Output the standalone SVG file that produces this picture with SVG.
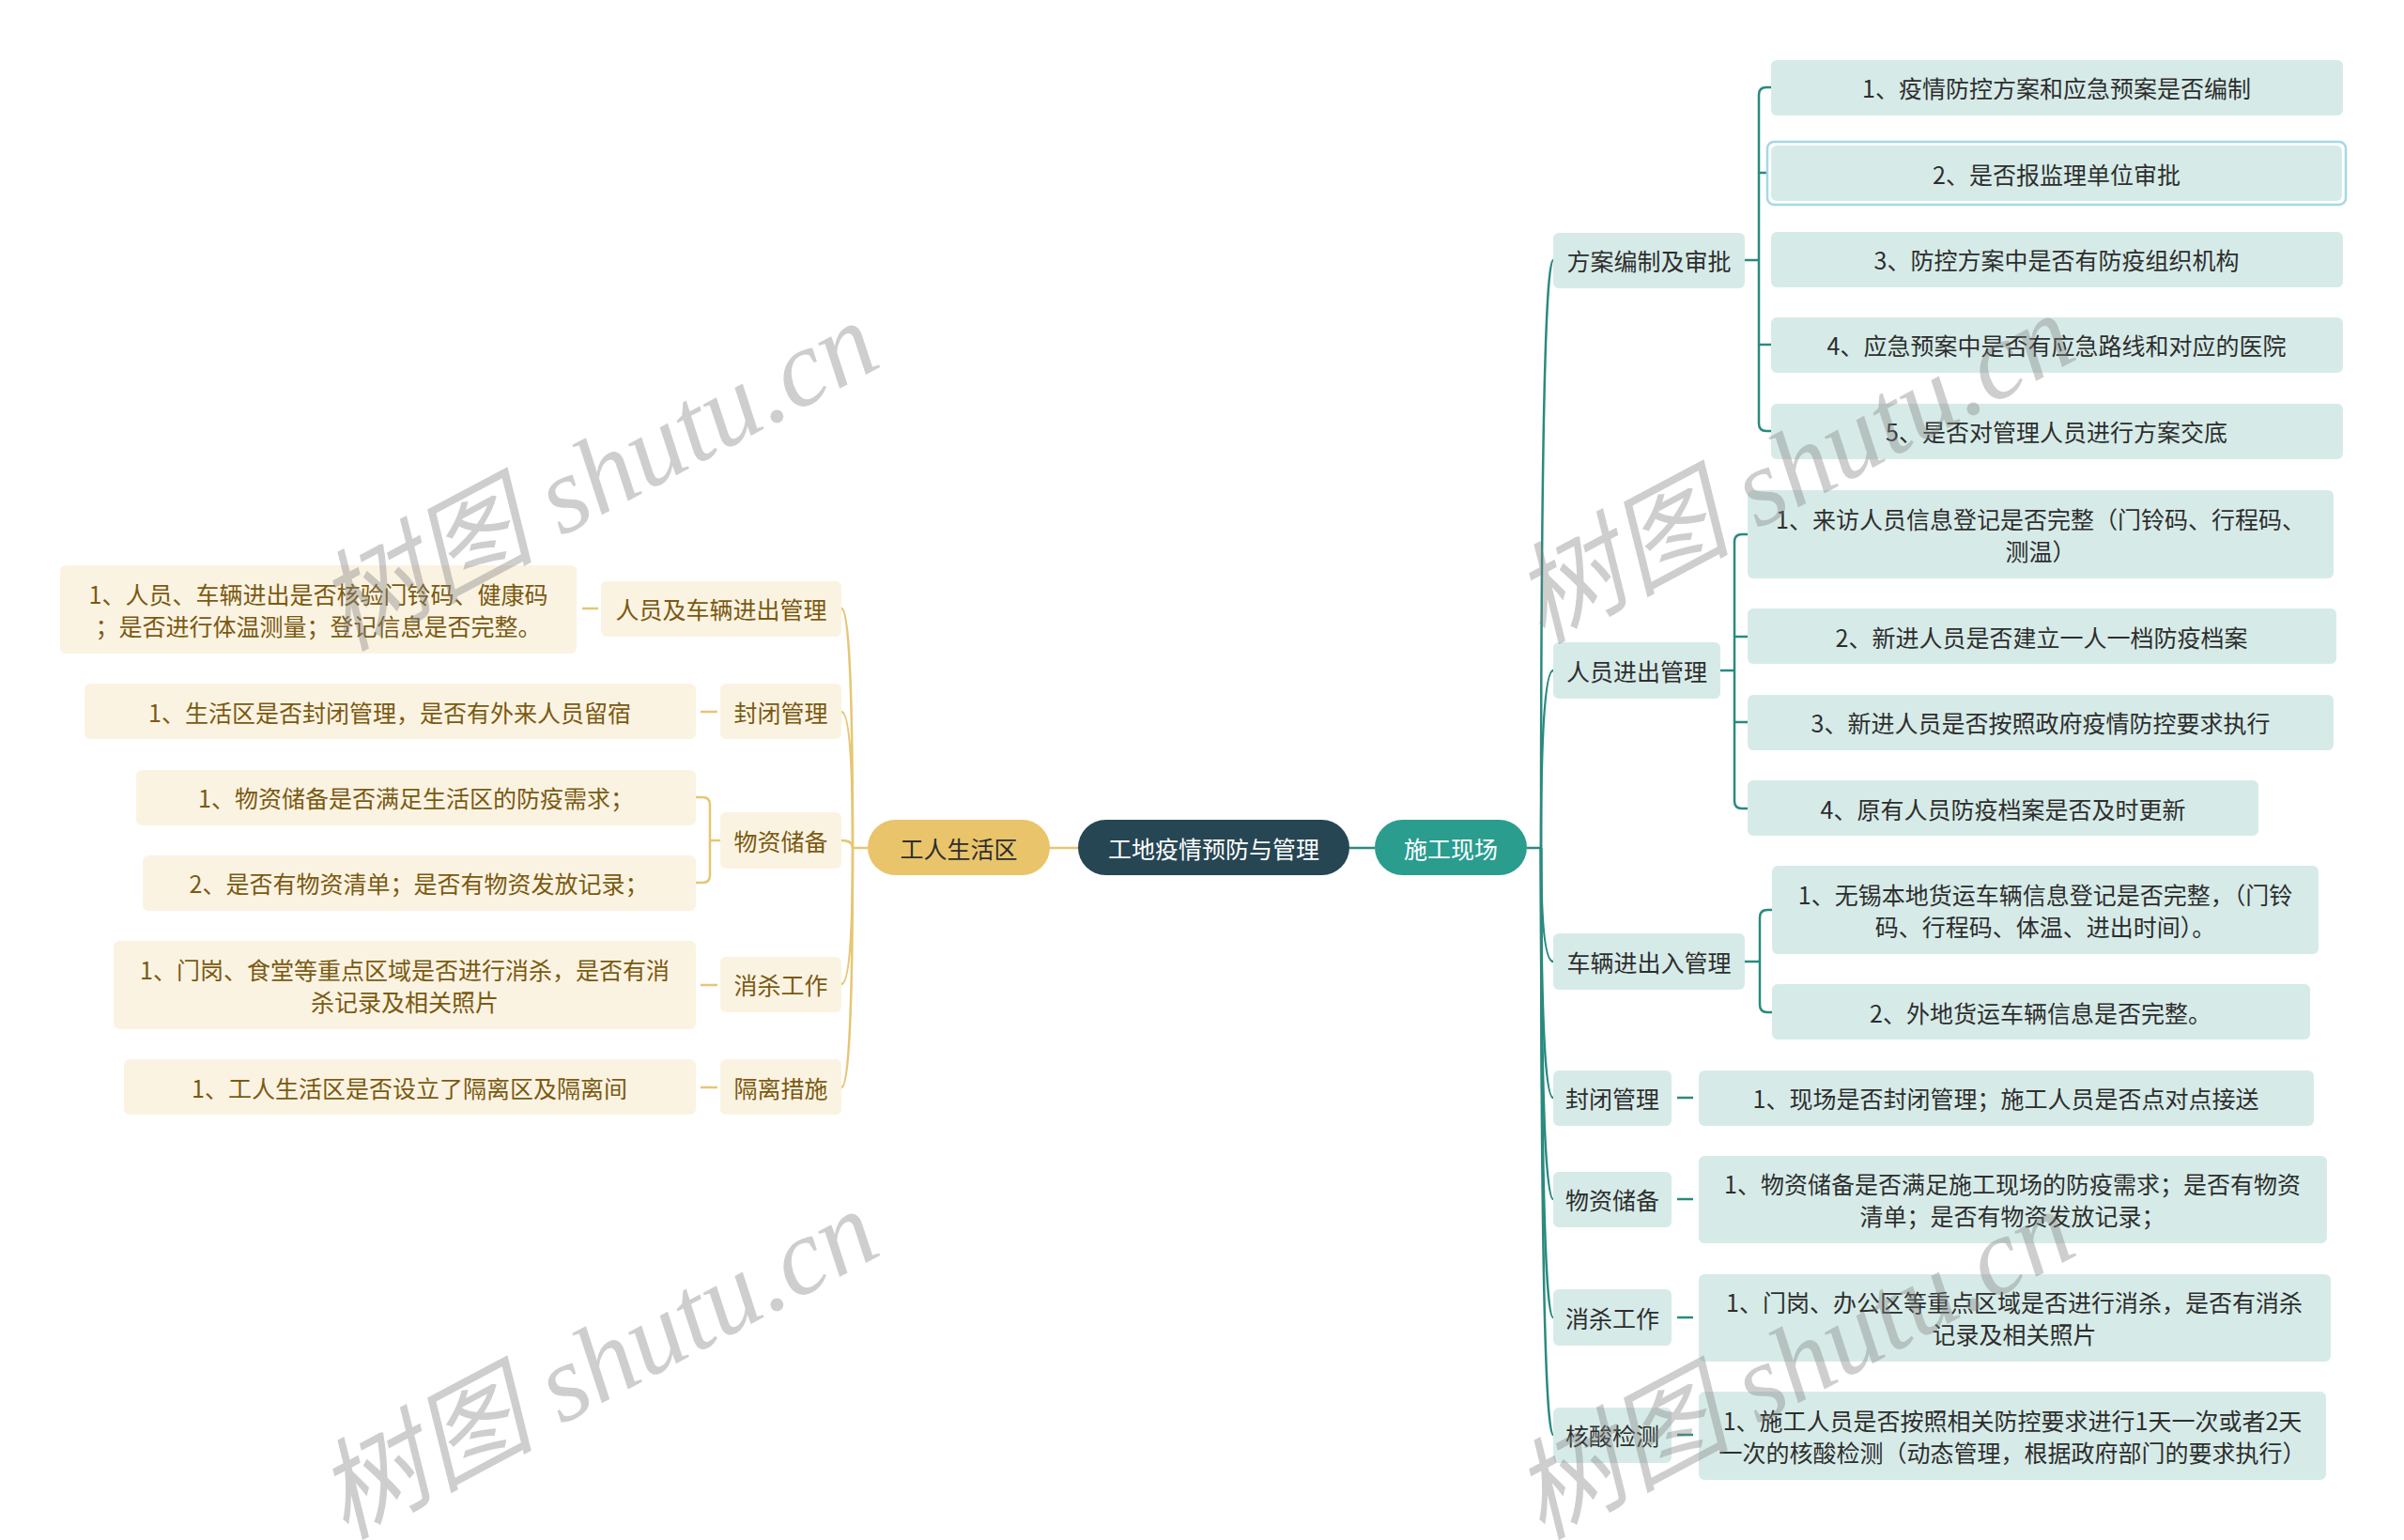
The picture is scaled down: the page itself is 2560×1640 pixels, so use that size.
<svg xmlns="http://www.w3.org/2000/svg" width="2560" height="1640" viewBox="0 0 2560 1640">
<style>
text{font-family:"Noto Sans CJK SC","Noto Sans",sans-serif;font-size:25px;dominant-baseline:central;text-anchor:middle}
.rb{fill:#d6ebe8}
.rt{fill:#2e2e2e}
.lb{fill:#fbf3e2}
.lt{fill:#7a5a12}
.rc{fill:none;stroke:#2a8a7e;stroke-width:2.5}
.lc{fill:none;stroke:#e5c674;stroke-width:2.5}
.wm{font-family:"Liberation Serif","Noto Sans CJK SC",serif;font-style:italic;font-size:116px;fill:#808080;opacity:0.38;text-anchor:start;dominant-baseline:auto}
</style>
<rect width="2560" height="1640" fill="#ffffff"/>

<g id="connectors">
  <path class="lc" d="M1118,903 H1148"/>
  <path class="rc" d="M1437,903 H1464"/>
  <!-- right trunk -->
  <path class="rc" d="M1626,903 H1641"/>
  <path class="rc" d="M1641,903 Q1641,277 1654,277"/>
  <path class="rc" d="M1641,903 Q1641,714 1654,714"/>
  <path class="rc" d="M1641,903 Q1641,1024 1654,1024"/>
  <path class="rc" d="M1641,903 Q1641,1169 1654,1169"/>
  <path class="rc" d="M1641,903 Q1641,1277 1654,1277"/>
  <path class="rc" d="M1641,903 Q1641,1403 1654,1403"/>
  <path class="rc" d="M1641,903 Q1641,1528 1654,1528"/>
  <!-- 方案 bracket -->
  <path class="rc" d="M1858,277 H1873"/>
  <path class="rc" d="M1886,93 H1881 Q1873,93 1873,101 V451 Q1873,459 1881,459 H1886"/>
  <path class="rc" d="M1873,184 H1883"/>
  <path class="rc" d="M1873,367 H1886"/>
  <!-- 人员进出 bracket -->
  <path class="rc" d="M1832,714 H1847"/>
  <path class="rc" d="M1861,569 H1855 Q1847,569 1847,577 V853 Q1847,861 1855,861 H1861"/>
  <path class="rc" d="M1847,678 H1861"/>
  <path class="rc" d="M1847,769 H1861"/>
  <!-- 车辆 bracket -->
  <path class="rc" d="M1858,1024 H1874"/>
  <path class="rc" d="M1887,969 H1882 Q1874,969 1874,977 V1070 Q1874,1078 1882,1078 H1887"/>
  <!-- single right -->
  <path class="rc" d="M1786,1169 H1803"/>
  <path class="rc" d="M1786,1277 H1803"/>
  <path class="rc" d="M1786,1403 H1803"/>
  <path class="rc" d="M1786,1528 H1803"/>
  <!-- left trunk -->
  <path class="lc" d="M924,903 H908"/>
  <path class="lc" d="M908,903 Q908,648 896,648"/>
  <path class="lc" d="M908,903 Q908,758 896,758"/>
  <path class="lc" d="M908,903 Q908,895 896,895"/>
  <path class="lc" d="M908,903 Q908,1048 896,1048"/>
  <path class="lc" d="M908,903 Q908,1158 896,1158"/>
  <!-- left children -->
  <path class="lc" d="M620,648 H637"/>
  <path class="lc" d="M746,758 H764"/>
  <path class="lc" d="M767,895 H756"/>
  <path class="lc" d="M741,849 H748 Q756,849 756,857 V932 Q756,940 748,940 H741"/>
  <path class="lc" d="M746,1049 H764"/>
  <path class="lc" d="M746,1158 H764"/>
</g>

<g id="root">
  <rect x="1148" y="873" width="289" height="59" rx="29.5" fill="#264653"/>
  <text x="1292.5" y="903" fill="#ffffff">工地疫情预防与管理</text>
</g>
<g id="site">
  <rect x="1464" y="873" width="162" height="59" rx="29.5" fill="#2a9d8f"/>
  <text x="1545" y="903" fill="#ffffff">施工现场</text>
</g>
<g id="living">
  <rect x="924" y="873" width="194" height="59" rx="29.5" fill="#e9c46a"/>
  <text x="1021" y="903" fill="#2e2e2e">工人生活区</text>
</g>

<!-- right level 2 -->
<g id="r-plan"><rect class="rb" x="1654" y="248" width="204" height="59" rx="6"/><text class="rt" x="1756" y="277">方案编制及审批</text></g>
<g id="r-people"><rect class="rb" x="1654" y="684" width="178" height="60" rx="6"/><text class="rt" x="1743" y="714">人员进出管理</text></g>
<g id="r-vehicle"><rect class="rb" x="1654" y="994" width="204" height="60" rx="6"/><text class="rt" x="1756" y="1024">车辆进出入管理</text></g>
<g id="r-closed"><rect class="rb" x="1654" y="1140" width="126" height="59" rx="6"/><text class="rt" x="1717" y="1169">封闭管理</text></g>
<g id="r-supply"><rect class="rb" x="1654" y="1248" width="126" height="59" rx="6"/><text class="rt" x="1717" y="1277">物资储备</text></g>
<g id="r-disinfect"><rect class="rb" x="1654" y="1373" width="126" height="60" rx="6"/><text class="rt" x="1717" y="1403">消杀工作</text></g>
<g id="r-test"><rect class="rb" x="1654" y="1499" width="126" height="59" rx="6"/><text class="rt" x="1717" y="1528">核酸检测</text></g>

<!-- right level 3 -->
<g id="r-plan-1"><rect class="rb" x="1886" y="64" width="609" height="59" rx="6"/><text class="rt" x="2190" y="93">1、疫情防控方案和应急预案是否编制</text></g>
<g id="r-plan-2"><rect x="1882" y="151" width="616" height="67" rx="7" fill="none" stroke="#a5d7e6" stroke-width="2.5"/><rect class="rb" x="1886" y="155" width="608" height="59" rx="6"/><text class="rt" x="2190" y="184.5">2、是否报监理单位审批</text></g>
<g id="r-plan-3"><rect class="rb" x="1886" y="247" width="609" height="59" rx="6"/><text class="rt" x="2190" y="276">3、防控方案中是否有防疫组织机构</text></g>
<g id="r-plan-4"><rect class="rb" x="1886" y="338" width="609" height="59" rx="6"/><text class="rt" x="2190" y="367">4、应急预案中是否有应急路线和对应的医院</text></g>
<g id="r-plan-5"><rect class="rb" x="1886" y="430" width="609" height="59" rx="6"/><text class="rt" x="2190" y="459">5、是否对管理人员进行方案交底</text></g>

<g id="r-people-1"><rect class="rb" x="1861" y="522" width="624" height="94" rx="6"/><text class="rt" x="2173" y="552">1、来访人员信息登记是否完整（门铃码、行程码、</text><text class="rt" x="2173" y="586">测温）</text></g>
<g id="r-people-2"><rect class="rb" x="1861" y="648" width="627" height="59" rx="6"/><text class="rt" x="2174" y="678">2、新进人员是否建立一人一档防疫档案</text></g>
<g id="r-people-3"><rect class="rb" x="1861" y="740" width="624" height="59" rx="6"/><text class="rt" x="2173" y="769">3、新进人员是否按照政府疫情防控要求执行</text></g>
<g id="r-people-4"><rect class="rb" x="1861" y="831" width="544" height="59" rx="6"/><text class="rt" x="2133" y="861">4、原有人员防疫档案是否及时更新</text></g>

<g id="r-vehicle-1"><rect class="rb" x="1887" y="922" width="582" height="94" rx="6"/><text class="rt" x="2178" y="952">1、无锡本地货运车辆信息登记是否完整，（门铃</text><text class="rt" x="2178" y="986">码、行程码、体温、进出时间）。</text></g>
<g id="r-vehicle-2"><rect class="rb" x="1887" y="1048" width="573" height="59" rx="6"/><text class="rt" x="2173" y="1078">2、外地货运车辆信息是否完整。</text></g>

<g id="r-closed-1"><rect class="rb" x="1809" y="1140" width="655" height="59" rx="6"/><text class="rt" x="2136" y="1169">1、现场是否封闭管理；施工人员是否点对点接送</text></g>
<g id="r-supply-1"><rect class="rb" x="1809" y="1231" width="669" height="93" rx="6"/><text class="rt" x="2143" y="1260">1、物资储备是否满足施工现场的防疫需求；是否有物资</text><text class="rt" x="2143" y="1294">清单；是否有物资发放记录；</text></g>
<g id="r-disinfect-1"><rect class="rb" x="1809" y="1357" width="673" height="93" rx="6"/><text class="rt" x="2145" y="1386">1、门岗、办公区等重点区域是否进行消杀，是否有消杀</text><text class="rt" x="2145" y="1420">记录及相关照片</text></g>
<g id="r-test-1"><rect class="rb" x="1809" y="1482" width="668" height="94" rx="6"/><text class="rt" x="2143" y="1512">1、施工人员是否按照相关防控要求进行1天一次或者2天</text><text class="rt" x="2143" y="1546">一次的核酸检测（动态管理，根据政府部门的要求执行）</text></g>

<!-- left level 2 -->
<g id="l-access"><rect class="lb" x="640" y="619" width="256" height="59" rx="6"/><text class="lt" x="768" y="648">人员及车辆进出管理</text></g>
<g id="l-closed"><rect class="lb" x="767" y="728" width="129" height="59" rx="6"/><text class="lt" x="831.5" y="758">封闭管理</text></g>
<g id="l-supply"><rect class="lb" x="767" y="865" width="129" height="60" rx="6"/><text class="lt" x="831.5" y="895">物资储备</text></g>
<g id="l-disinfect"><rect class="lb" x="767" y="1019" width="129" height="59" rx="6"/><text class="lt" x="831.5" y="1048">消杀工作</text></g>
<g id="l-isolate"><rect class="lb" x="767" y="1128" width="129" height="59" rx="6"/><text class="lt" x="831.5" y="1158">隔离措施</text></g>

<!-- left level 3 -->
<g id="l-access-1"><rect class="lb" x="64" y="602" width="550" height="94" rx="6"/><text class="lt" x="339" y="632">1、人员、车辆进出是否核验门铃码、健康码</text><text class="lt" x="339" y="666">；是否进行体温测量；登记信息是否完整。</text></g>
<g id="l-closed-1"><rect class="lb" x="90" y="728" width="651" height="59" rx="6"/><text class="lt" x="415" y="758">1、生活区是否封闭管理，是否有外来人员留宿</text></g>
<g id="l-supply-1"><rect class="lb" x="145" y="820" width="596" height="59" rx="6"/><text class="lt" x="443" y="849">1、物资储备是否满足生活区的防疫需求；</text></g>
<g id="l-supply-2"><rect class="lb" x="152" y="911" width="589" height="59" rx="6"/><text class="lt" x="446" y="940">2、是否有物资清单；是否有物资发放记录；</text></g>
<g id="l-disinfect-1"><rect class="lb" x="121" y="1002" width="620" height="94" rx="6"/><text class="lt" x="431" y="1032">1、门岗、食堂等重点区域是否进行消杀，是否有消</text><text class="lt" x="431" y="1066">杀记录及相关照片</text></g>
<g id="l-isolate-1"><rect class="lb" x="132" y="1128" width="609" height="59" rx="6"/><text class="lt" x="436" y="1158">1、工人生活区是否设立了隔离区及隔离间</text></g>

<g id="watermarks">
  <text class="wm" transform="translate(367,694) rotate(-28)">树图 shutu.cn</text>
  <text class="wm" transform="translate(367,1640) rotate(-28)">树图 shutu.cn</text>
  <text class="wm" transform="translate(1641,686) rotate(-28)">树图 shutu.cn</text>
  <text class="wm" transform="translate(1641,1640) rotate(-28)">树图 shutu.cn</text>
</g>
</svg>
